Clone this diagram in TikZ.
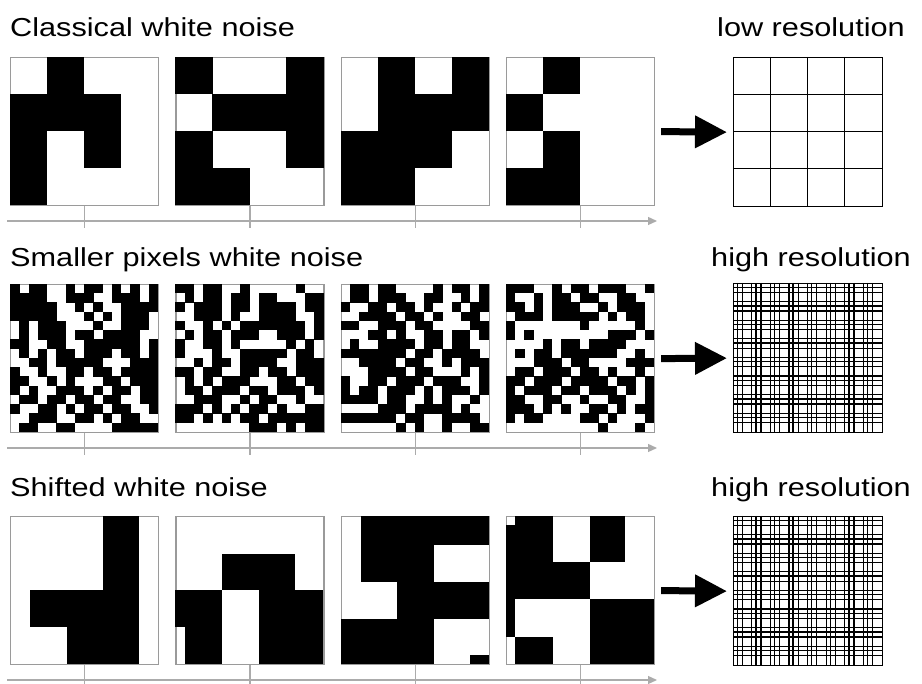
\documentclass[tikz,border=0pt]{standalone}
\usepackage{fontspec}
\setmainfont{Liberation Sans}[FakeStretch=1.18]
\usetikzlibrary{arrows.meta,calc}
\definecolor{framegray}{HTML}{9A9A9A}
\definecolor{axisgray}{HTML}{ABABAB}
\makeatletter
\newcount\pxcol
\def\pxrow#1#2#3#4{\def\px@x{#1}\def\px@y{#2}\def\px@c{#3}\pxcol=0 \edef\px@s{#4}\expandafter\px@parse\px@s\relax}
\def\px@parse#1{\ifx\relax#1\else\if1#1\fill[black] (\px@x+\the\pxcol*\px@c,\px@y) rectangle ++(\px@c+0.25,\px@c+0.25);\fi\advance\pxcol by 1 \expandafter\px@parse\fi}
\makeatother
\newcommand\pxpanel[4]{\foreach \s [count=\r from 0] in {#4} {\pxrow{#1}{#2+\r*#3}{#3}{\s}}}
\tikzset{
  panel/.style={draw=framegray, line width=1.2pt, minimum size=148pt, inner sep=0pt, anchor=north west, fill=white},
  gridbox/.style={draw=black, line width=1.3pt, minimum size=149pt, inner sep=0pt, anchor=north west, fill=white},
  axisline/.style={draw=axisgray, line width=1.3pt, -{Triangle[length=9pt,width=8pt]}},
  tickline/.style={draw=axisgray, line width=1.3pt},
  bigarrow/.style={draw=black, line width=7pt, -{Triangle[length=32pt,width=31pt]}},
  rowtitle/.style={anchor=base west, font=\fontsize{26}{30}\selectfont, inner sep=0pt},
  restitle/.style={anchor=base, font=\fontsize{26}{30}\selectfont, inner sep=0pt},
  gridln/.style={line width=1.3pt, black},
  finegridln/.style={line width=1.25pt, black}
}
\begin{document}
\begin{tikzpicture}[x=1pt,y=-1pt]
\useasboundingbox (0,0) rectangle (922,684);
\fill[white] (0,0) rectangle (922,684);
% titles
\node[rowtitle] (t1) at (10,37) {Classical white noise};
\node[rowtitle] (t2) at (10,266.5) {Smaller pixels white noise};
\node[rowtitle] (t3) at (10,497) {Shifted white noise};
\node[restitle] (r1) at (811,37) {low resolution};
\node[restitle] (r2) at (811,266.5) {high resolution};
\node[restitle] (r3) at (811,497) {high resolution};
% ---------- row 1 ----------
\node[panel] (p11) at (10,57) {};
\node[panel] (p12) at (175.3,57) {};
\node[panel] (p13) at (340.6,57) {};
\node[panel] (p14) at (505.9,57) {};
\pxpanel{10}{57}{37}{0100,1110,1010,1000}
\pxpanel{175.3}{57}{37}{1001,0111,1001,1100}
\pxpanel{340.6}{57}{37}{0101,0111,1110,1100}
\pxpanel{505.9}{57}{37}{0100,1000,0100,1100}
\coordinate (a1s) at (7,221);
\coordinate (a1e) at (657,221);
\draw[axisline] (a1s) -- (a1e);
\foreach \p in {p11,p12,p13,p14} {\draw[tickline] (\p.south) -- ++(0,22);}
% ---------- row 2 ----------
\node[panel] (p21) at (10,284) {};
\node[panel] (p22) at (175.3,284) {};
\node[panel] (p23) at (340.6,284) {};
\node[panel] (p24) at (505.9,284) {};
\pxpanel{10}{284}{9.25}{1011001011010101,1111001110011101,1111100101001111,1111100010101110,0101110001001110,0101110110111100,1100110011111101,0101011011101101,0011011111000111,1001001101101111,1100101000110111,1010011101011011,0110110110110011,1001101011011001,0011100110101100,0110011000011111}
\pxpanel{175.3}{284}{9.25}{1101100100000100,0101101101100011,1011101101111011,0011101001111001,1001010111111101,0101101110011101,1001101000001010,1000100111110110,0010110111100111,1101100110110111,0101011100011011,0110111011011101,0011100101100100,1110101011010011,1101010110111111,0000000011101011}
\pxpanel{340.6}{284}{9.25}{0110110000101101,0110111001100101,1001101101001011,0011110110100110,1100111011000011,0001101001101101,0100111101101100,1111111011011110,0011110110010111,0001111011000101,1001101110111001,1011011101011101,1111011001010010,0000111011110100,1111110110011110,0000001010010011}
\pxpanel{505.9}{284}{9.25}{1110010110111001,1001011011001100,1101011100101110,0111011111010110,1000000010000010,1010000000011101,0000101101111000,0101101111110010,0001110110000111,0110111011010010,1101110111101101,1011101101110101,1100110010011001,1110101001101011,1011000011010001,0000000000100010}
\coordinate (a2s) at (7,448);
\coordinate (a2e) at (657,448);
\draw[axisline] (a2s) -- (a2e);
\foreach \p in {p21,p22,p23,p24} {\draw[tickline] (\p.south) -- ++(0,22);}
% ---------- row 3 ----------
\node[panel] (p31) at (10,516) {};
\node[panel] (p32) at (175.3,516) {};
\node[panel] (p33) at (340.6,516) {};
\node[panel] (p34) at (505.9,516) {};
\begin{scope}[shift={(10,516)}]
  \fill (93.3,0) rectangle (129.3,148);
  \fill (20,74) rectangle (93.5,111);
  \fill (56.7,110.8) rectangle (93.5,148);
\end{scope}
\begin{scope}[shift={(175.3,516)}]
  \fill (46.7,37.7) rectangle (119.3,74.5);
  \fill (0,74.3) rectangle (46.7,111.2);
  \fill (9.3,111) rectangle (46.7,148);
  \fill (83.7,74.3) rectangle (148,148);
\end{scope}
\begin{scope}[shift={(340.6,516)}]
  \fill (20,0) rectangle (148,29.5);
  \fill (20,29.3) rectangle (93.3,66.2);
  \fill (56.7,66) rectangle (148,102.9);
  \fill (0,102.7) rectangle (93.3,148);
  \fill (129.3,138.7) rectangle (148,148);
\end{scope}
\begin{scope}[shift={(505.9,516)}]
  \fill (9.3,0) rectangle (46.7,9.5);
  \fill (83.7,0) rectangle (119.3,46.2);
  \fill (0,9.3) rectangle (46.7,46.2);
  \fill (0,46) rectangle (83.7,82.9);
  \fill (0,82.7) rectangle (9.3,121);
  \fill (83.7,82.7) rectangle (148,148);
  \fill (9.3,121) rectangle (46.7,148);
\end{scope}
\coordinate (a3s) at (7,680);
\coordinate (a3e) at (657,680);
\draw[axisline] (a3s) -- (a3e);
\foreach \p in {p31,p32,p33,p34} {\draw[tickline] (\p.south) -- ++(0,22);}
% ---------- result grids ----------
\node[gridbox] (g1) at (733,57) {};
\node[gridbox] (g2) at (733,283) {};
\node[gridbox] (g3) at (733,516) {};
\foreach \k in {1,2,3} {
  \draw[gridln] ($(g1.north west)+(\k*149/4,0)$) -- ++(0,149);
  \draw[gridln] ($(g1.north west)+(0,\k*149/4)$) -- ++(149,0);
}
\foreach \g in {g2,g3} {
  \foreach \k in {1,...,15} {
    \draw[finegridln] ($(\g.north west)+(\k*149/16,0)$) -- ++(0,149);
    \draw[finegridln] ($(\g.north west)+(0,\k*149/16)$) -- ++(149,0);
  }
  \foreach \k in {0,...,7} {
    \draw[finegridln] ($(\g.north west)+(4.3+\k*18.6,0)$) -- ++(0,149);
    \draw[finegridln] ($(\g.north west)+(0,4.3+\k*18.6)$) -- ++(149,0);
  }
}
% ---------- arrows ----------
\draw[bigarrow] ([xshift=6pt]p14.east) -- ([xshift=-6pt]g1.west);
\draw[bigarrow] ([xshift=6pt]p24.east) -- ([xshift=-6pt]g2.west);
\draw[bigarrow] ([xshift=6pt]p34.east) -- ([xshift=-6pt]g3.west);
\end{tikzpicture}
\end{document}
